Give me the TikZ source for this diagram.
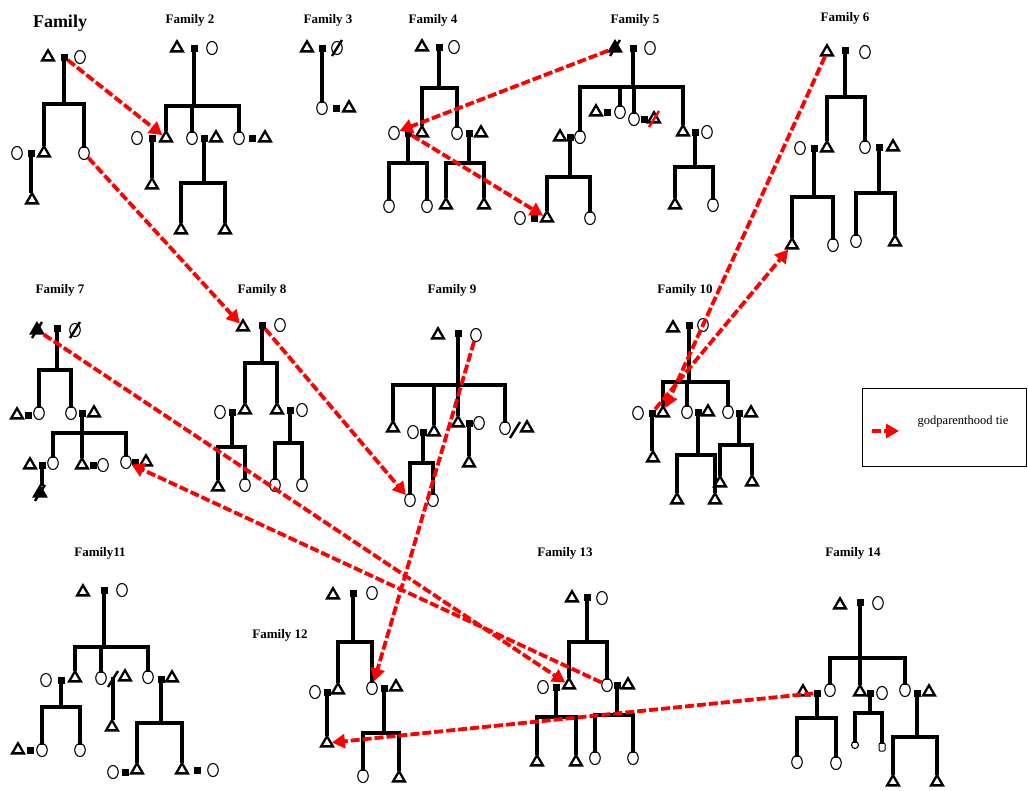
\documentclass[tikz,border=0pt]{standalone}
\usepackage{fontspec}
\setmainfont{Liberation Serif}
\usetikzlibrary{shapes.geometric,arrows.meta}
\tikzset{
 male/.style={regular polygon,regular polygon sides=3,draw,line width=2.3pt,minimum size=13.5pt,inner sep=0pt},
 fem/.style={ellipse,draw,line width=1.1pt,minimum width=10.5pt,minimum height=13pt,inner sep=0pt},
 mar/.style={rectangle,fill,minimum width=7pt,minimum height=7pt,inner sep=0pt},
 tree/.style={line width=3.8pt,line cap=rect},
 god/.style={red,line width=3.8pt,dash pattern=on 9pt off 3pt,-{Triangle[length=13pt,width=14pt]}},
 ttl/.style={font=\bfseries\fontsize{13}{15}\selectfont},
}
\newcommand\kM[2]{\node[male] (#1) at (#2) {};}
\newcommand\kD[2]{\node[male,fill=black] (#1) at (#2) {};}
\newcommand\kF[2]{\node[fem] (#1) at (#2) {};}
\newcommand\kS[2]{\node[mar] (#1) at (#2) {};}
\newcommand\kX[2][black]{\draw[line width=2.4pt,#1] ([shift={(-5,8)}]#2.center) -- ([shift={(5,-8)}]#2.center);}
\newcommand\kSib[5]{%
 \draw[tree] (#1.center) -- (#1 |- 0,#2);
 \draw[tree] (#3 |- 0,#2) -- (#4 |- 0,#2);
 \foreach \kc in {#5} {\draw[tree] (\kc.north) -- (\kc |- 0,#2);}}
\newcommand\kOne[2]{\draw[tree] (#1.center) -- (#1 |- #2.north);}
\begin{document}
\begin{tikzpicture}[x=1pt,y=-1pt]
\useasboundingbox (0,0) rectangle (1028,790);
% ---------- Family 1
\node[font=\bfseries\fontsize{18}{20}\selectfont] (T1) at (60,23) {Family};
\kM{t1}{48,57} \kS{s1}{64,57} \kF{c1}{80,57}
\kF{c1a}{17,153} \kS{s1a}{31,153} \kM{t1a}{44,153} \kF{c1b}{84,153}
\kM{t1aa}{32,200}
\kSib{s1}{104}{t1a}{c1b}{t1a,c1b}
\kOne{s1a}{t1aa}
% ---------- Family 2
\node[ttl] (T2) at (190,20) {Family 2};
\kM{t2}{177,48} \kS{s2}{194,48} \kF{c2}{212,48}
\kF{c2a}{137,138} \kS{s2a}{152,138} \kM{t2a}{166,138}
\kF{c2b}{192,138} \kS{s2b}{204,138} \kM{t2b}{216,138}
\kF{c2c}{239,138} \kS{s2c}{252,138} \kM{t2c}{265,138}
\kM{t2aa}{152,185} \kM{t2ba}{181,230} \kM{t2bb}{225,230}
\kSib{s2}{106}{t2a}{c2c}{t2a,c2b,c2c}
\kOne{s2a}{t2aa}
\kSib{s2b}{183}{t2ba}{t2bb}{t2ba,t2bb}
% ---------- Family 3
\node[ttl] (T3) at (328,20) {Family 3};
\kM{t3}{307,48} \kS{s3}{322,48} \kF{c3}{337,48} \kX{c3}
\kF{c3a}{322,108} \kS{s3a}{336,108} \kM{t3a}{349,108}
\kOne{s3}{c3a}
% ---------- Family 4
\node[ttl] (T4) at (433,20) {Family 4};
\kM{t4}{422,47} \kS{s4}{439,47} \kF{c4}{454,47}
\kF{c4a}{394,133} \kS{s4a}{408,133} \kM{t4a}{422,133}
\kF{c4b}{457,133} \kS{s4b}{469,133} \kM{t4b}{481,133}
\kF{c4aa}{389,206} \kF{c4ab}{427,206} \kM{t4ba}{446,205} \kM{t4bb}{484,205}
\kSib{s4}{88}{t4a}{c4b}{t4a,c4b}
\kSib{s4a}{163}{c4aa}{c4ab}{c4aa,c4ab}
\kSib{s4b}{163}{t4ba}{t4bb}{t4ba,t4bb}
% ---------- Family 5
\node[ttl] (T5) at (635,20) {Family 5};
\kD{t5}{615,48} \kX{t5} \kS{s5}{633,48} \kF{c5}{650,48}
\kM{t5a}{560,137} \kS{s5a}{570,137} \kF{c5a}{580,137}
\kM{t5b}{596,112} \kS{s5b}{607,112} \kF{c5b}{620,112}
\kF{c5c}{634,119} \kS{s5c}{644,119} \kM{t5c}{654,119} \kX[red]{t5c}
\kM{t5d}{683,132} \kS{s5d}{695,132} \kF{c5d}{707,132}
\kF{c5aa}{520,218} \kS{s5aa}{534,218} \kM{t5aa}{547,218} \kF{c5ab}{590,218}
\kM{t5da}{675,205} \kF{c5db}{713,205}
\kSib{s5}{87}{c5a}{t5d}{c5a,c5b,c5c,t5d}
\kSib{s5a}{177}{t5aa}{c5ab}{t5aa,c5ab}
\kSib{s5d}{167}{t5da}{c5db}{t5da,c5db}
% ---------- Family 6
\node[ttl] (T6) at (845,18) {Family 6};
\kM{t6}{827,52} \kS{s6}{845,50} \kF{c6}{865,52}
\kF{c6a}{800,148} \kS{s6a}{814,148} \kM{t6a}{827,148}
\kF{c6b}{865,147} \kS{s6b}{879,147} \kM{t6b}{893,147}
\kM{t6aa}{792,245} \kF{c6ab}{833,245} \kF{c6ba}{856,241} \kM{t6bb}{895,242}
\kSib{s6}{97}{t6a}{c6b}{t6a,c6b}
\kSib{s6a}{197}{t6aa}{c6ab}{t6aa,c6ab}
\kSib{s6b}{193}{c6ba}{t6bb}{c6ba,t6bb}
% ---------- Family 7
\node[ttl] (T7) at (60,290) {Family 7};
\kD{t7}{37,330} \kX{t7} \kS{s7}{57,328} \kF{c7}{75,330} \kX{c7}
\kM{t7a}{17,415} \kS{s7a}{28,415} \kF{c7a}{39,413}
\kF{c7b}{71,413} \kS{s7b}{82,413} \kM{t7b}{94,413}
\kM{t7ba}{30,465} \kS{s7ba}{42,465} \kF{c7ba}{53,463}
\kM{t7bb}{82,465} \kS{s7bb}{93,465} \kF{c7bb}{103,465}
\kF{c7bc}{126,462} \kS{s7bc}{135,462} \kM{t7bc}{146,462}
\kD{t7baa}{40,493} \kX{t7baa}
\kSib{s7}{370}{c7a}{c7b}{c7a,c7b}
\kSib{s7b}{433}{c7ba}{c7bc}{c7ba,t7bb,c7bc}
\kOne{s7ba}{t7baa}
% ---------- Family 8
\node[ttl] (T8) at (262,290) {Family 8};
\kM{t8}{243,327} \kS{s8}{262,325} \kF{c8}{280,325}
\kF{c8a}{220,412} \kS{s8a}{232,412} \kM{t8a}{245,410}
\kM{t8b}{277,410} \kS{s8b}{290,410} \kF{c8b}{302,410}
\kM{t8aa}{218,487} \kF{c8ab}{245,485} \kF{c8ba}{275,485} \kF{c8bb}{302,485}
\kSib{s8}{363}{t8a}{t8b}{t8a,t8b}
\kSib{s8a}{447}{t8aa}{c8ab}{t8aa,c8ab}
\kSib{s8b}{443}{c8ba}{c8bb}{c8ba,c8bb}
% ---------- Family 9
\node[ttl] (T9) at (452,290) {Family 9};
\kM{t9}{438,335} \kS{s9}{458,333} \kF{c9}{476,335}
\kM{t9a}{393,428}
\kF{c9b}{413,432} \kS{s9b}{423,432} \kM{t9b}{434,432}
\kM{t9c}{458,423} \kS{s9c}{469,423} \kF{c9c}{479,423}
\kF{c9d}{505,428} \node[coordinate] (k9d) at (515,430) {}; \kX{k9d} \kM{t9d}{527,428}
\kF{c9ba}{410,500} \kF{c9bb}{433,500} \kM{t9ca}{469,463}
\kSib{s9}{385}{t9a}{c9d}{t9a,t9b,t9c,c9d}
\kSib{s9b}{463}{c9ba}{c9bb}{c9ba,c9bb}
\kOne{s9c}{t9ca}
% ---------- Family 10
\node[ttl] (T10) at (685,290) {Family 10};
\kM{t10}{673,328} \kS{s10}{689,325} \kF{c10}{703,325}
\kF{c10a}{638,413} \kS{s10a}{652,413} \kM{t10a}{663,413}
\kF{c10b}{687,412} \kS{s10b}{698,412} \kM{t10b}{708,412}
\kF{c10c}{728,412} \kS{s10c}{739,413} \kM{t10c}{751,413}
\kM{t10aa}{653,458} \kM{t10ba}{677,500} \kM{t10bb}{715,500}
\kM{t10ca}{720,483} \kM{t10cb}{752,482}
\kSib{s10}{382}{t10a}{c10c}{t10a,c10b,c10c}
\kOne{s10a}{t10aa}
\kSib{s10b}{455}{t10ba}{t10bb}{t10ba,t10bb}
\kSib{s10c}{445}{t10ca}{t10cb}{t10ca,t10cb}
% ---------- Family 11
\node[ttl] (T11) at (100,553) {Family11};
\kM{t11}{83,592} \kS{s11}{104,590} \kF{c11}{122,590}
\kF{c11a}{46,680} \kS{s11a}{61,680} \kM{t11a}{75,678}
\kF{c11b}{101,678} \node[coordinate] (k11b) at (113,679) {}; \kX{k11b} \kM{t11b}{125,677}
\kF{c11c}{148,677} \kS{s11c}{161,679} \kM{t11c}{172,678}
\kM{t11aa}{18,750} \kS{s11aa}{30,750} \kF{c11aa}{42,750} \kF{c11ab}{80,750}
\kM{t11ba}{112,727}
\kF{c11ca}{113,772} \kS{s11ca}{125,772} \kM{t11ca}{137,770}
\kM{t11cb}{182,770} \kS{s11cb}{197,770} \kF{c11cb}{213,770}
\kSib{s11}{647}{t11a}{c11c}{t11a,c11b,c11c}
\kSib{s11a}{707}{c11aa}{c11ab}{c11aa,c11ab}
\kOne{k11b}{t11ba}
\kSib{s11c}{723}{t11ca}{t11cb}{t11ca,t11cb}
% ---------- Family 12
\node[ttl] (T12) at (280,635) {Family 12};
\kM{t12}{333,595} \kS{s12}{353,593} \kF{c12}{372,593}
\kF{c12a}{315,692} \kS{s12a}{327,692} \kM{t12a}{338,690}
\kF{c12b}{372,688} \kS{s12b}{384,688} \kM{t12b}{396,687}
\kM{t12aa}{327,743} \kF{c12ba}{363,776} \kM{t12bb}{399,778}
\kSib{s12}{642}{t12a}{c12b}{t12a,c12b}
\kOne{s12a}{t12aa}
\kSib{s12b}{733}{c12ba}{t12bb}{c12ba,t12bb}
% ---------- Family 13
\node[ttl] (T13) at (565,553) {Family 13};
\kM{t13}{572,598} \kS{s13}{587,597} \kF{c13}{602,598}
\kF{c13a}{543,687} \kS{s13a}{556,687} \kM{t13a}{569,685}
\kF{c13b}{607,685} \kS{s13b}{617,685} \kM{t13b}{628,685}
\kM{t13aa}{537,762} \kM{t13ab}{576,762} \kF{c13ba}{595,758} \kF{c13bb}{633,758}
\kSib{s13}{642}{t13a}{c13b}{t13a,c13b}
\kSib{s13a}{717}{t13aa}{t13ab}{t13aa,t13ab}
\kSib{s13b}{715}{c13ba}{c13bb}{c13ba,c13bb}
% ---------- Family 14
\node[ttl] (T14) at (853,553) {Family 14};
\kM{t14}{840,605} \kS{s14}{860,602} \kF{c14}{878,603}
\kM{t14a}{803,692} \kS{s14a}{817,693} \kF{c14a}{830,690}
\kM{t14b}{860,692} \kS{s14b}{870,693} \kF{c14b}{882,693}
\kF{c14c}{905,690} \kS{s14c}{917,693} \kM{t14c}{929,692}
\kF{c14aa}{797,762} \kF{c14ab}{836,763}
\node[fem,minimum width=7pt,minimum height=7pt] (c14ba) at (855,745) {};
\node[draw,rectangle,rounded corners=1pt,line width=1pt,minimum width=6pt,minimum height=8pt,inner sep=0pt] (x14bb) at (882,747) {};
\kM{t14ca}{893,782} \kM{t14cb}{937,782}
\kSib{s14}{658}{c14a}{c14c}{c14a,t14b,c14c}
\kSib{s14a}{718}{c14aa}{c14ab}{c14aa,c14ab}
\kSib{s14b}{713}{c14ba}{x14bb}{c14ba,x14bb}
\kSib{s14c}{737}{t14ca}{t14cb}{t14ca,t14cb}
% ---------- Legend
\node[draw,line width=1pt,minimum width=164pt,minimum height=78pt,inner sep=0pt] (leg) at (944,427) {};
\coordinate (la) at (872,431); \coordinate (lb) at (899,431);
\draw[god] (la) -- (lb);
\node[font=\fontsize{12.5}{14}\selectfont] (lt) at (963,422) {godparenthood tie};
% ---------- Godparenthood ties
\draw[god] (s1) -- (t2a);
\draw[god] (c1b) -- (t8);
\draw[god] (t5) -- (c4a);
\draw[god] (s4a) -- (t5aa);
\draw[god] (t6) -- (t10a);
\draw[god] (s10a) -- (t6aa);
\draw[god] (t7) -- (t13a);
\draw[god] (c13b) -- (c7bc);
\draw[god] (s8) -- (c9ba);
\draw[god] (c9) -- (c12b);
\draw[god] (s14a) -- (t12aa);
\end{tikzpicture}
\end{document}
